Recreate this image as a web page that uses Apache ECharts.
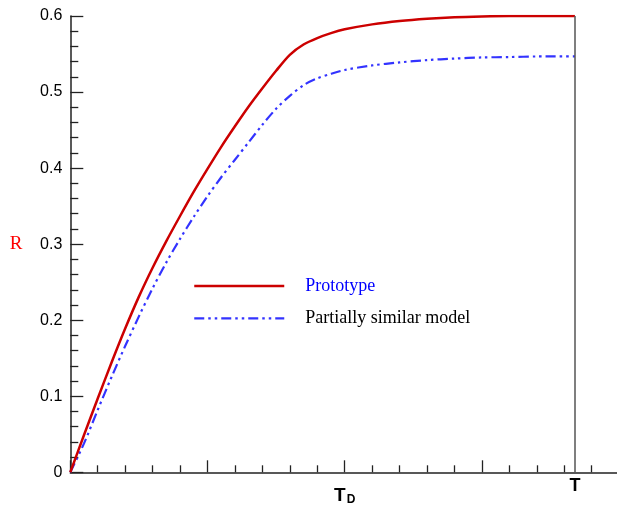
<!DOCTYPE html>
<html>
<head>
<meta charset="utf-8">
<script src="https://cdn.jsdelivr.net/npm/echarts@6/dist/echarts.min.js"></script>
<style>
html,body{margin:0;padding:0;background:#fff;}
#chart{width:617px;height:510px;}
</style>
</head>
<body>
<div id="chart"></div>
<script>
// x in units where one minor tick = 1; T_D = 10, T = 18.39
const T_D = 10;
const T_END = 18.39;
const xMax = 20;
const yTicks = [0, 0.1, 0.2, 0.3, 0.4, 0.5, 0.6];
const seriesNames = ['Prototype', 'Partially similar model'];
const prototypeX = [0,0.5,1,1.5,2,2.5,3,3.5,4,4.5,5,5.5,6,6.5,7,7.5,8,8.5,9,9.5,10,11,12,13,14,15,16,17,18.39];
const prototypeY = [0,0.049,0.097,0.144,0.189,0.231,0.269,0.304,0.337,0.369,0.399,0.428,0.455,0.481,0.505,0.528,0.549,0.5625,0.571,0.5775,0.5825,0.589,0.5935,0.5965,0.5985,0.5995,0.600,0.600,0.600];
const modelX = [0,0.5,1,1.5,2,2.5,3,3.5,4,4.5,5,5.5,6,6.5,7,7.5,8,8.5,9,9.5,10,11,12,13,14,15,16,17,18.39];
const modelY = [0,0.038,0.082,0.125,0.166,0.205,0.242,0.276,0.307,0.336,0.363,0.388,0.411,0.434,0.457,0.478,0.495,0.509,0.518,0.524,0.529,0.535,0.539,0.542,0.544,0.5455,0.546,0.5468,0.547];

const zip = (xs, ys) => xs.map((x, i) => [x, ys[i]]);
const chart = echarts.init(document.getElementById('chart'), null, {renderer: 'canvas'});
chart.setOption({
  animation: false,
  backgroundColor: '#fff',
  grid: {left: 70.3, width: 548.8, top: 16, bottom: 37.7, containLabel: false, outerBoundsMode: 'none'},
  legend: {
    orient: 'vertical',
    left: 188,
    top: 271,
    itemWidth: 90,
    itemHeight: 20,
    itemGap: 12.3,
    selectedMode: false,
    itemStyle: {opacity: 0},
    textStyle: {fontFamily: 'Liberation Serif', fontSize: 18, lineHeight: 20, padding: [0, 0, 0, 16]},
    data: [
      {name: seriesNames[0], textStyle: {color: '#0000ff'}, lineStyle: {width: 2.5}},
      {name: seriesNames[1], textStyle: {color: '#000000'}, lineStyle: {width: 2.2}}
    ]
  },
  xAxis: {
    type: 'value', min: 0, max: xMax, interval: 5,
    axisLine: {show: true, onZero: false, lineStyle: {color: '#222', width: 1.5}},
    axisTick: {show: true, inside: true, length: 12, lineStyle: {color: '#222', width: 1.3}},
    minorTick: {show: true, splitNumber: 5, length: 7, lineStyle: {color: '#222', width: 1.3}},
    splitLine: {show: false},
    axisLabel: {
      margin: 13,
      formatter: v => v === T_D ? '{t|T}{d|D}' : '',
      rich: {
        t: {fontFamily: 'Liberation Sans', fontWeight: 'bold', fontSize: 19, color: '#000', lineHeight: 20, verticalAlign: 'bottom'},
        d: {fontFamily: 'Liberation Sans', fontWeight: 'bold', fontSize: 12, color: '#000', lineHeight: 20, verticalAlign: 'bottom', padding: [0,0,0,1]}
      }
    }
  },
  yAxis: {
    type: 'value', min: 0, max: 0.6, interval: 0.1,
    name: 'R', nameLocation: 'middle', nameRotate: 0, nameGap: 48,
    nameTextStyle: {color: '#ff0000', fontFamily: 'Liberation Serif', fontSize: 19},
    axisLine: {show: true, lineStyle: {color: '#222', width: 1.5}},
    axisTick: {show: true, inside: true, length: 13, lineStyle: {color: '#222', width: 1.3}},
    minorTick: {show: true, splitNumber: 5, length: 8, lineStyle: {color: '#222', width: 1.3}},
    splitLine: {show: false},
    axisLabel: {
      margin: 8, color: '#000', fontFamily: 'Liberation Sans', fontSize: 16,
      formatter: v => {
        const i = yTicks.findIndex(t => Math.abs(t - v) < 1e-9);
        return i >= 0 ? String(yTicks[i]) : '';
      }
    }
  },
  series: [
    {
      name: seriesNames[0], type: 'line', symbol: 'none', smooth: 0.3,
      data: zip(prototypeX, prototypeY),
      lineStyle: {color: '#cc0000', width: 2.5},
      itemStyle: {color: '#cc0000'},
      z: 3,
      markLine: {
        silent: true, symbol: 'none', animation: false,
        lineStyle: {color: '#555', width: 1.5, type: 'solid'},
        label: {show: true, position: 'start', formatter: 'T', distance: 5,
                fontFamily: 'Liberation Sans', fontWeight: 'bold', fontSize: 18, color: '#000'},
        data: [[{coord: [T_END, 0]}, {coord: [T_END, 0.6]}]]
      }
    },
    {
      name: seriesNames[1], type: 'line', symbol: 'none', smooth: 0.3,
      data: zip(modelX, modelY),
      lineStyle: {color: '#3333ff', width: 2.2, type: [10, 4, 2.5, 4, 2.5, 4], cap: 'butt'},
      itemStyle: {color: '#3333ff'},
      z: 2
    }
  ]
});
</script>
</body>
</html>
